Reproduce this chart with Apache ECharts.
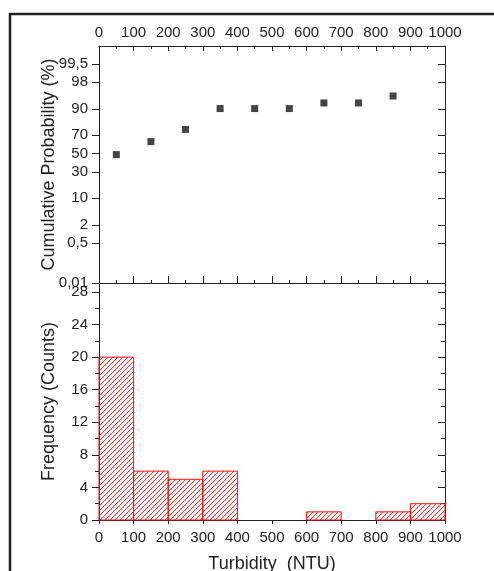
<!DOCTYPE html>
<html>
<head>
<meta charset="utf-8">
<script src="https://cdn.jsdelivr.net/npm/echarts@6.0.0/dist/echarts.min.js"></script>
<style>
  html, body { margin: 0; padding: 0; background: #fff; }
  #main { width: 494px; height: 571px; }
</style>
</head>
<body>
<div id="main"></div>
<script>
// histogram bins (NTU) and counts
const binStart = [0, 100, 200, 300, 400, 500, 600, 700, 800, 900]
const binWidth = 100
const counts = [20, 6, 5, 6, 0, 0, 1, 0, 1, 2]

// cumulative probability points
const cumX = [50, 150, 250, 350, 450, 550, 650, 750, 850]
const cumP = [48.8, 63.4, 75.6, 90.2, 90.2, 90.2, 92.7, 92.7, 95.1]

// probability axis tick labels (%)
const probTicks = [0.01, 0.5, 2, 10, 30, 50, 70, 90, 98, 99.5]
const probTop = 99.9

const freqTicks = [0, 4, 8, 12, 16, 20, 24, 28]
const freqMinor = [2, 6, 10, 14, 18, 22, 26]
const freqMax = 29.1

// inverse normal cdf (Acklam) - probability scale transform
function normInv (p) {
  const a = [-3.969683028665376e+01, 2.209460984245205e+02, -2.759285104469687e+02, 1.383577518672690e+02, -3.066479806614716e+01, 2.506628277459239e+00]
  const b = [-5.447609879822406e+01, 1.615858368580409e+02, -1.556989798598866e+02, 6.680131188771972e+01, -1.328068155288572e+01]
  const c = [-7.784894002430293e-03, -3.223964580411365e-01, -2.400758277161838e+00, -2.549732539343734e+00, 4.374664141464968e+00, 2.938163982698783e+00]
  const d = [7.784695709041462e-03, 3.224671290700398e-01, 2.445134137142996e+00, 3.754408661907416e+00]
  const pl = 0.02425
  let q, r
  if (p < pl) {
    q = Math.sqrt(-2 * Math.log(p))
    return (((((c[0]*q+c[1])*q+c[2])*q+c[3])*q+c[4])*q+c[5]) / ((((d[0]*q+d[1])*q+d[2])*q+d[3])*q+1)
  } else if (p <= 1 - pl) {
    q = p - 0.5; r = q * q
    return (((((a[0]*r+a[1])*r+a[2])*r+a[3])*r+a[4])*r+a[5])*q / (((((b[0]*r+b[1])*r+b[2])*r+b[3])*r+b[4])*r+1)
  } else {
    q = Math.sqrt(-2 * Math.log(1 - p))
    return -(((((c[0]*q+c[1])*q+c[2])*q+c[3])*q+c[4])*q+c[5]) / ((((d[0]*q+d[1])*q+d[2])*q+d[3])*q+1)
  }
}
const z = p => normInv(p / 100)
const zTicks = probTicks.map(z)
const zMin = z(probTicks[0])
const zMax = z(probTop)

function probLabel (v) {
  let best = 0
  zTicks.forEach((t, i) => { if (Math.abs(t - v) < Math.abs(zTicks[best] - v)) best = i })
  return String(probTicks[best]).replace('.', ',')
}

// hatch pattern for the bars
const hatch = document.createElement('canvas')
hatch.width = 5
hatch.height = 5
const hc = hatch.getContext('2d')
hc.strokeStyle = '#ff2a2a'
hc.lineWidth = 1
hc.beginPath()
hc.moveTo(-1, 6); hc.lineTo(6, -1)
hc.moveTo(-1, 1); hc.lineTo(1, -1)
hc.moveTo(4, 6); hc.lineTo(6, 4)
hc.stroke()

const txt = '#222'
const font = 'Liberation Sans, Arial, sans-serif'
const line = { show: true, onZero: false, lineStyle: { color: txt, width: 1 } }
const plain = v => String(v)

const chart = echarts.init(document.getElementById('main'))

const option = {
  animation: false,
  backgroundColor: '#fff',
  textStyle: { fontFamily: font },
  graphic: [{
    type: 'rect',
    shape: { x: 10, y: 14, width: 520, height: 600 },
    style: { fill: 'none', stroke: '#222', lineWidth: 2.5 },
    silent: true
  }],
  grid: [
    { left: 99, right: 49, top: 46, height: 237, outerBoundsMode: 'none' },
    { left: 99, right: 49, top: 283, height: 237, outerBoundsMode: 'none' }
  ],
  xAxis: [
    {
      gridIndex: 0, type: 'value', position: 'top', min: 0, max: 1000, interval: 100,
      axisLine: line,
      axisTick: { show: true, inside: true, length: 5, lineStyle: { color: txt } },
      minorTick: { show: true, splitNumber: 2, length: 3, lineStyle: { color: txt } },
      axisLabel: { show: true, color: txt, fontSize: 15, margin: 6, formatter: plain },
      splitLine: { show: false }
    },
    {
      gridIndex: 0, type: 'value', position: 'bottom', min: 0, max: 1000, interval: 100,
      axisLine: line,
      axisTick: { show: true, inside: true, length: 7, lineStyle: { color: txt } },
      minorTick: { show: true, splitNumber: 2, length: 3, lineStyle: { color: txt } },
      axisLabel: { show: false },
      splitLine: { show: false }
    },
    {
      gridIndex: 1, type: 'value', position: 'bottom', min: 0, max: 1000, interval: 100,
      name: 'Turbidity  (NTU)', nameLocation: 'middle', nameGap: 35, nameMoveOverlap: false,
      nameTextStyle: { color: txt, fontSize: 18 },
      axisLine: line,
      axisTick: { show: true, inside: false, length: 4, lineStyle: { color: txt } },
      axisLabel: { show: true, color: txt, fontSize: 15, margin: 10, formatter: plain },
      splitLine: { show: false }
    }
  ],
  yAxis: [
    {
      gridIndex: 0, type: 'value', position: 'left', min: zMin, max: zMax,
      name: 'Cumulative Probability (%)', nameLocation: 'middle', nameGap: 41, nameMoveOverlap: false,
      nameTextStyle: { color: txt, fontSize: 18 },
      axisLine: line,
      axisTick: { show: true, inside: false, length: 7, customValues: zTicks, lineStyle: { color: txt } },
      axisLabel: { show: true, color: txt, fontSize: 15, margin: 11, customValues: zTicks, formatter: probLabel },
      splitLine: { show: false }
    },
    {
      gridIndex: 0, type: 'value', position: 'right', min: zMin, max: zMax,
      axisLine: line,
      axisTick: { show: true, inside: true, length: 7, customValues: zTicks, lineStyle: { color: txt } },
      axisLabel: { show: false },
      splitLine: { show: false }
    },
    {
      gridIndex: 1, type: 'value', position: 'left', min: 0, max: freqMax,
      name: 'Frequency (Counts)', nameLocation: 'middle', nameGap: 41, nameMoveOverlap: false,
      nameTextStyle: { color: txt, fontSize: 18 },
      axisLine: line,
      axisTick: { show: true, inside: false, length: 7, customValues: freqTicks, lineStyle: { color: txt } },
      axisLabel: { show: true, color: txt, fontSize: 15, margin: 11, customValues: freqTicks },
      splitLine: { show: false }
    },
    {
      gridIndex: 1, type: 'value', position: 'right', min: 0, max: freqMax,
      axisLine: line,
      axisTick: { show: true, inside: true, length: 7, customValues: freqTicks, lineStyle: { color: txt } },
      axisLabel: { show: false },
      splitLine: { show: false }
    },
    {
      gridIndex: 1, type: 'value', position: 'left', min: 0, max: freqMax,
      axisLine: { show: false },
      axisTick: { show: true, inside: false, length: 4, customValues: freqMinor, lineStyle: { color: txt } },
      axisLabel: { show: false },
      splitLine: { show: false }
    },
    {
      gridIndex: 1, type: 'value', position: 'right', min: 0, max: freqMax,
      axisLine: { show: false },
      axisTick: { show: true, inside: true, length: 4, customValues: freqMinor, lineStyle: { color: txt } },
      axisLabel: { show: false },
      splitLine: { show: false }
    }
  ],
  series: [
    {
      type: 'scatter',
      xAxisIndex: 0, yAxisIndex: 0,
      symbol: 'rect', symbolSize: 7,
      itemStyle: { color: '#151515' },
      data: cumX.map((x, i) => [x, z(cumP[i])])
    },
    {
      type: 'custom',
      xAxisIndex: 2, yAxisIndex: 2,
      data: binStart.map((x, i) => [x, x + binWidth, counts[i]]),
      renderItem: function (params, api) {
        const v = api.value(2)
        if (!v) return null
        const p0 = api.coord([api.value(0), v])
        const p1 = api.coord([api.value(1), 0])
        return {
          type: 'rect',
          shape: { x: p0[0], y: p0[1], width: p1[0] - p0[0], height: p1[1] - p0[1] },
          style: { fill: { image: hatch, repeat: 'repeat' }, stroke: '#ee1111', lineWidth: 1 }
        }
      },
      z: 1
    }
  ]
}

chart.setOption(option)
</script>
</body>
</html>
